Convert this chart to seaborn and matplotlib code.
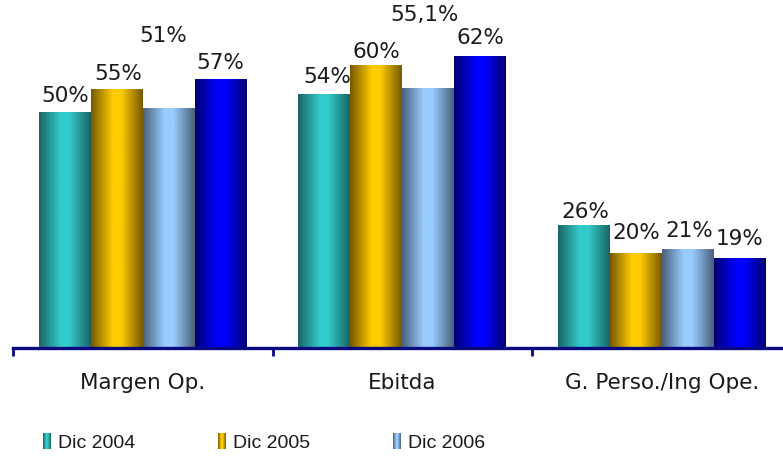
"""
Margen / Ebitda / Gastos de personal - barras con degradado
"""

import numpy as np
import pandas as pd
import matplotlib
matplotlib.use('Agg')
import matplotlib.pyplot as plt
import seaborn as sns
from matplotlib.colors import LinearSegmentedColormap
from matplotlib.patches import Rectangle
from matplotlib.legend_handler import HandlerBase

# ── Datos ─────────────────────────────────────────────────────
categorias = ['Margen Op.', 'Ebitda', 'G. Perso./Ing Ope.']
periodos = ['Dic 2004', 'Dic 2005', 'Dic 2006', 'Dic 2007']
dic_2004 = [50, 54, 26]
dic_2005 = [55, 60, 20]
dic_2006 = [51, 55.1, 21]
dic_2007 = [57, 62, 19]

# periodos que aparecen en la leyenda
periodos_leyenda = ['Dic 2004', 'Dic 2005', 'Dic 2006']

# ── Estilo ────────────────────────────────────────────────────
# (oscuro, claro) de cada serie para el degradado horizontal
gradientes = {
    'Dic 2004': ('#1a6464', '#33cccc'),
    'Dic 2005': ('#765800', '#ffcc00'),
    'Dic 2006': ('#4a5f7a', '#99ccff'),
    'Dic 2007': ('#00006e', '#0000ff'),
}
# desplazamiento de cada etiqueta (puntos) sobre la barra, por serie y categoria
desp_etiquetas = {
    'Dic 2004': [(0, 12), (2, 12), (1, 10)],
    'Dic 2005': [(1, 11), (0, 10), (0, 15)],
    'Dic 2006': [(-4, 52), (-3, 53), (1, 13)],
    'Dic 2007': [(0, 12), (0, 13), (0, 14)],
}
NAVY = '#0a0a80'
TXT = '#1a1a1a'

valores = {'Dic 2004': dic_2004, 'Dic 2005': dic_2005,
           'Dic 2006': dic_2006, 'Dic 2007': dic_2007}
df = pd.DataFrame([
    {'Categoria': c, 'Periodo': p, 'Valor': valores[p][i]}
    for p in periodos for i, c in enumerate(categorias)
])


def cmap_de(p):
    oscuro, claro = gradientes[p]
    return LinearSegmentedColormap.from_list(
        p, [(0.0, oscuro), (0.42, claro), (0.58, claro), (1.0, oscuro)])


def fmt_pct(v):
    if float(v).is_integer():
        return f'{int(v)}%'
    return f'{v:.1f}%'.replace('.', ',')


sns.set_theme(style='white')
plt.rcParams['font.family'] = ['DejaVu Sans']

fig = plt.figure(figsize=(7.83, 4.61), dpi=100)
ax = fig.add_axes([13 / 783, 113 / 461, 770 / 783, 348 / 461])

sns.barplot(data=df, x='Categoria', y='Valor', hue='Periodo',
            order=categorias, hue_order=periodos,
            palette=[gradientes[p][1] for p in periodos],
            width=0.8, gap=0, linewidth=0, legend=False, ax=ax)

# degradado encima de cada barra + etiqueta
grad = np.linspace(0, 1, 256).reshape(1, -1)
barras = [b for b in ax.patches if isinstance(b, Rectangle)]
for k, p in enumerate(periodos):
    cmap = cmap_de(p)
    for i in range(len(categorias)):
        b = barras[k * len(categorias) + i]
        x0, w, h = b.get_x(), b.get_width(), b.get_height()
        ax.imshow(grad, cmap=cmap, aspect='auto',
                  extent=(x0, x0 + w, 0, h), zorder=3)
        dx, dy = desp_etiquetas[p][i]
        ax.annotate(fmt_pct(valores[p][i]), (x0 + w / 2, h),
                    xytext=(dx, dy), textcoords='offset points',
                    ha='center', va='center', fontsize=15.5, color=TXT,
                    zorder=5)

ax.set_xlim(-0.5, -0.5 + 770 / 259.5)
ax.set_ylim(0, 74)

# ejes
for s in ['top', 'right', 'left']:
    ax.spines[s].set_visible(False)
ax.spines['bottom'].set_color(NAVY)
ax.spines['bottom'].set_linewidth(2.4)
ax.spines['bottom'].set_zorder(6)
ax.set_yticks([])
ax.set_xticks(range(len(categorias)))
ax.set_xticklabels(categorias, fontsize=15.5, color=TXT)
ax.tick_params(axis='x', which='major', length=0, pad=18)
ax.set_xticks([-0.5, 0.5, 1.5], minor=True)
ax.tick_params(axis='x', which='minor', direction='out', length=6,
               width=2, color=NAVY, bottom=True)
ax.set_xlabel('')
ax.set_ylabel('')


# leyenda con cuadritos en degradado
class HandlerGradiente(HandlerBase):
    def create_artists(self, legend, orig_handle, xdescent, ydescent,
                       width, height, fontsize, trans):
        cmap = cmap_de(orig_handle.get_label())
        n = 8
        arts = []
        for j in range(n):
            r = Rectangle((-xdescent + width * j / n, -ydescent - 2),
                          width / n, height + 3,
                          facecolor=cmap((j + 0.5) / n), edgecolor='none',
                          transform=trans)
            arts.append(r)
        return arts


handles = [Rectangle((0, 0), 1, 1, label=p) for p in periodos_leyenda]
fig.legend(handles=handles, labels=periodos_leyenda,
           handler_map={Rectangle: HandlerGradiente()},
           loc='center left', bbox_to_anchor=(25.5 / 783, 1 - 443 / 461),
           ncol=3, frameon=False, handlelength=0.41, handleheight=0.55,
           handletextpad=0.36, columnspacing=4.25,
           prop={'family': ['Liberation Sans', 'DejaVu Sans'],
                 'size': 14})
for t in fig.legends[0].get_texts():
    t.set_color(TXT)

plt.savefig('out.png', dpi=100)
plt.close()
